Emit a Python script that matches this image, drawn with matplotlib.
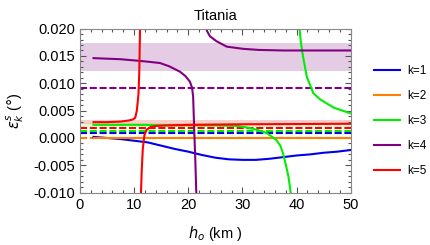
import numpy as np
import matplotlib
matplotlib.use("Agg")
import matplotlib.pyplot as plt
from matplotlib.ticker import MultipleLocator, FormatStrFormatter

plt.rcParams['font.family'] = ['Liberation Sans', 'DejaVu Sans']
plt.rcParams['mathtext.fontset'] = 'dejavusans'

# k=1 (blue)
h1 = [2.5, 5, 7.5, 10, 12.5, 15, 17.5, 20, 22.5, 25, 27.5, 30, 32.5, 35, 37.5, 40, 42.5, 45, 47.5, 50]
e1 = [0.0002, 0.0000, -0.0002, -0.0005, -0.0008, -0.0014, -0.0020, -0.0025, -0.0031, -0.0036,
      -0.0039, -0.0040, -0.0040, -0.0038, -0.0035, -0.0032, -0.0030, -0.0027, -0.0025, -0.0022]
# k=2 (orange)
h2 = [2.5, 50]
e2 = [0.0000, 0.0000]
# k=3 (green), two branches
h3a = [2.5, 10, 20, 25, 29, 31, 33, 34.5, 35.5, 36.3, 37, 37.5, 38, 38.5, 39]
e3a = [0.0024, 0.0024, 0.0023, 0.0023, 0.0022, 0.0019, 0.0014, 0.0009, 0.0002, -0.0004,
       -0.0014, -0.0028, -0.0048, -0.0070, -0.0105]
h3b = [40.5, 40.8, 41.2, 41.9, 43.1, 44.3, 45.6, 47, 48.5, 50]
e3b = [0.0205, 0.0175, 0.0149, 0.0112, 0.0082, 0.0071, 0.0063, 0.0055, 0.0050, 0.0045]
# k=4 (purple), two branches
h4a = [2.5, 5, 7.5, 11, 13, 14.8, 16.5, 18.5, 19.5, 20.3, 20.7, 20.9, 21.1, 21.3, 21.5]
e4a = [0.0146, 0.0145, 0.0144, 0.0141, 0.0139, 0.0137, 0.0131, 0.0121, 0.0113, 0.0103,
       0.0092, 0.0076, 0.0015, -0.0040, -0.0105]
h4b = [23.1, 23.5, 24.0, 25.2, 27.1, 30.1, 33, 37.5, 44, 50]
e4b = [0.0205, 0.0195, 0.0186, 0.0177, 0.0167, 0.0163, 0.0161, 0.0160, 0.0160, 0.0160]
# k=5 (red), two branches
h5a = [2.5, 5, 7.5, 9, 9.8, 10.2, 10.5, 10.8, 10.95, 11.1]
e5a = [0.0029, 0.0029, 0.0030, 0.0032, 0.0034, 0.0037, 0.0050, 0.0080, 0.0120, 0.0205]
h5b = [11.25, 11.4, 11.6, 11.9, 12.3, 13, 14, 16, 20, 30, 50]
e5b = [-0.0105, -0.0060, -0.0020, 0.0005, 0.0015, 0.0020, 0.0022, 0.0023, 0.0024, 0.0025, 0.0026]

# dashed reference levels
dash_vals = {'k1': 0.0009, 'k2': 0.0000, 'k3': 0.0013, 'k4': 0.0092, 'k5': 0.0018}
# shaded bands (lo, hi)
band_k4 = (0.0123, 0.0173)
band_k5 = (0.0026, 0.0033)
band_k3 = (0.0021, 0.0028)

c1 = '#0000ee'
c2 = '#ff8000'
c3 = '#00ee00'
c4 = '#800080'
c5 = '#ff0000'

fig = plt.figure(figsize=(4.31, 2.45), dpi=100)
ax = fig.add_axes([0.1856, 0.2135, 0.628, 0.6698])

ax.axhspan(*band_k4, color=c4, alpha=0.2, lw=0)
ax.axhspan(*band_k5, color=c5, alpha=0.2, lw=0)
ax.axhspan(*band_k3, color=c3, alpha=0.15, lw=0)

lw = 1.5
dash = (3.4, 1.3)
ax.axhline(dash_vals['k2'], color=c2, lw=lw, dashes=dash)
ax.axhline(dash_vals['k1'], color=c1, lw=lw, dashes=dash)
ax.axhline(dash_vals['k3'], color=c3, lw=lw, dashes=dash)
ax.axhline(dash_vals['k5'], color=c5, lw=lw, dashes=dash)
ax.axhline(dash_vals['k4'], color=c4, lw=lw, dashes=dash)

ax.plot(h1, e1, color=c1, lw=lw, label='k=1')
ax.plot(h2, e2, color=c2, lw=lw, label='k=2')
ax.plot(h3a, e3a, color=c3, lw=lw, label='k=3')
ax.plot(h3b, e3b, color=c3, lw=lw)
ax.plot(h4a, e4a, color=c4, lw=lw, label='k=4')
ax.plot(h4b, e4b, color=c4, lw=lw)
ax.plot(h5a, e5a, color=c5, lw=lw, label='k=5')
ax.plot(h5b, e5b, color=c5, lw=lw)

ax.set_xlim(0, 50)
ax.set_ylim(-0.010, 0.020)
ax.xaxis.set_major_locator(MultipleLocator(10))
ax.xaxis.set_minor_locator(MultipleLocator(2))
ax.yaxis.set_major_locator(MultipleLocator(0.005))
ax.yaxis.set_minor_locator(MultipleLocator(0.001))
ax.yaxis.set_major_formatter(FormatStrFormatter('%.3f'))
ax.tick_params(which='both', direction='in', top=True, right=True, colors='#555555',
               labelcolor='black', labelsize=10.5, width=0.8)
ax.tick_params(which='major', length=4)
ax.tick_params(which='minor', length=2)
for s in ax.spines.values():
    s.set_color('#888888')
    s.set_linewidth(0.8)

ax.set_title('Titania', fontsize=10.5, pad=6)
ax.set_xlabel('$h_o$ (km )', fontsize=10.5, labelpad=9)
ax.set_ylabel(r'$\epsilon_k^s$ ($\degree$)', fontsize=10.5, labelpad=5)

ax.legend(loc='center left', bbox_to_anchor=(0.868, 0.506), bbox_transform=fig.transFigure,
          frameon=False, fontsize=8.5, handlelength=2.2, handletextpad=0.6,
          labelspacing=1.1, borderpad=0, borderaxespad=0)

fig.savefig('out.png', dpi=100)
